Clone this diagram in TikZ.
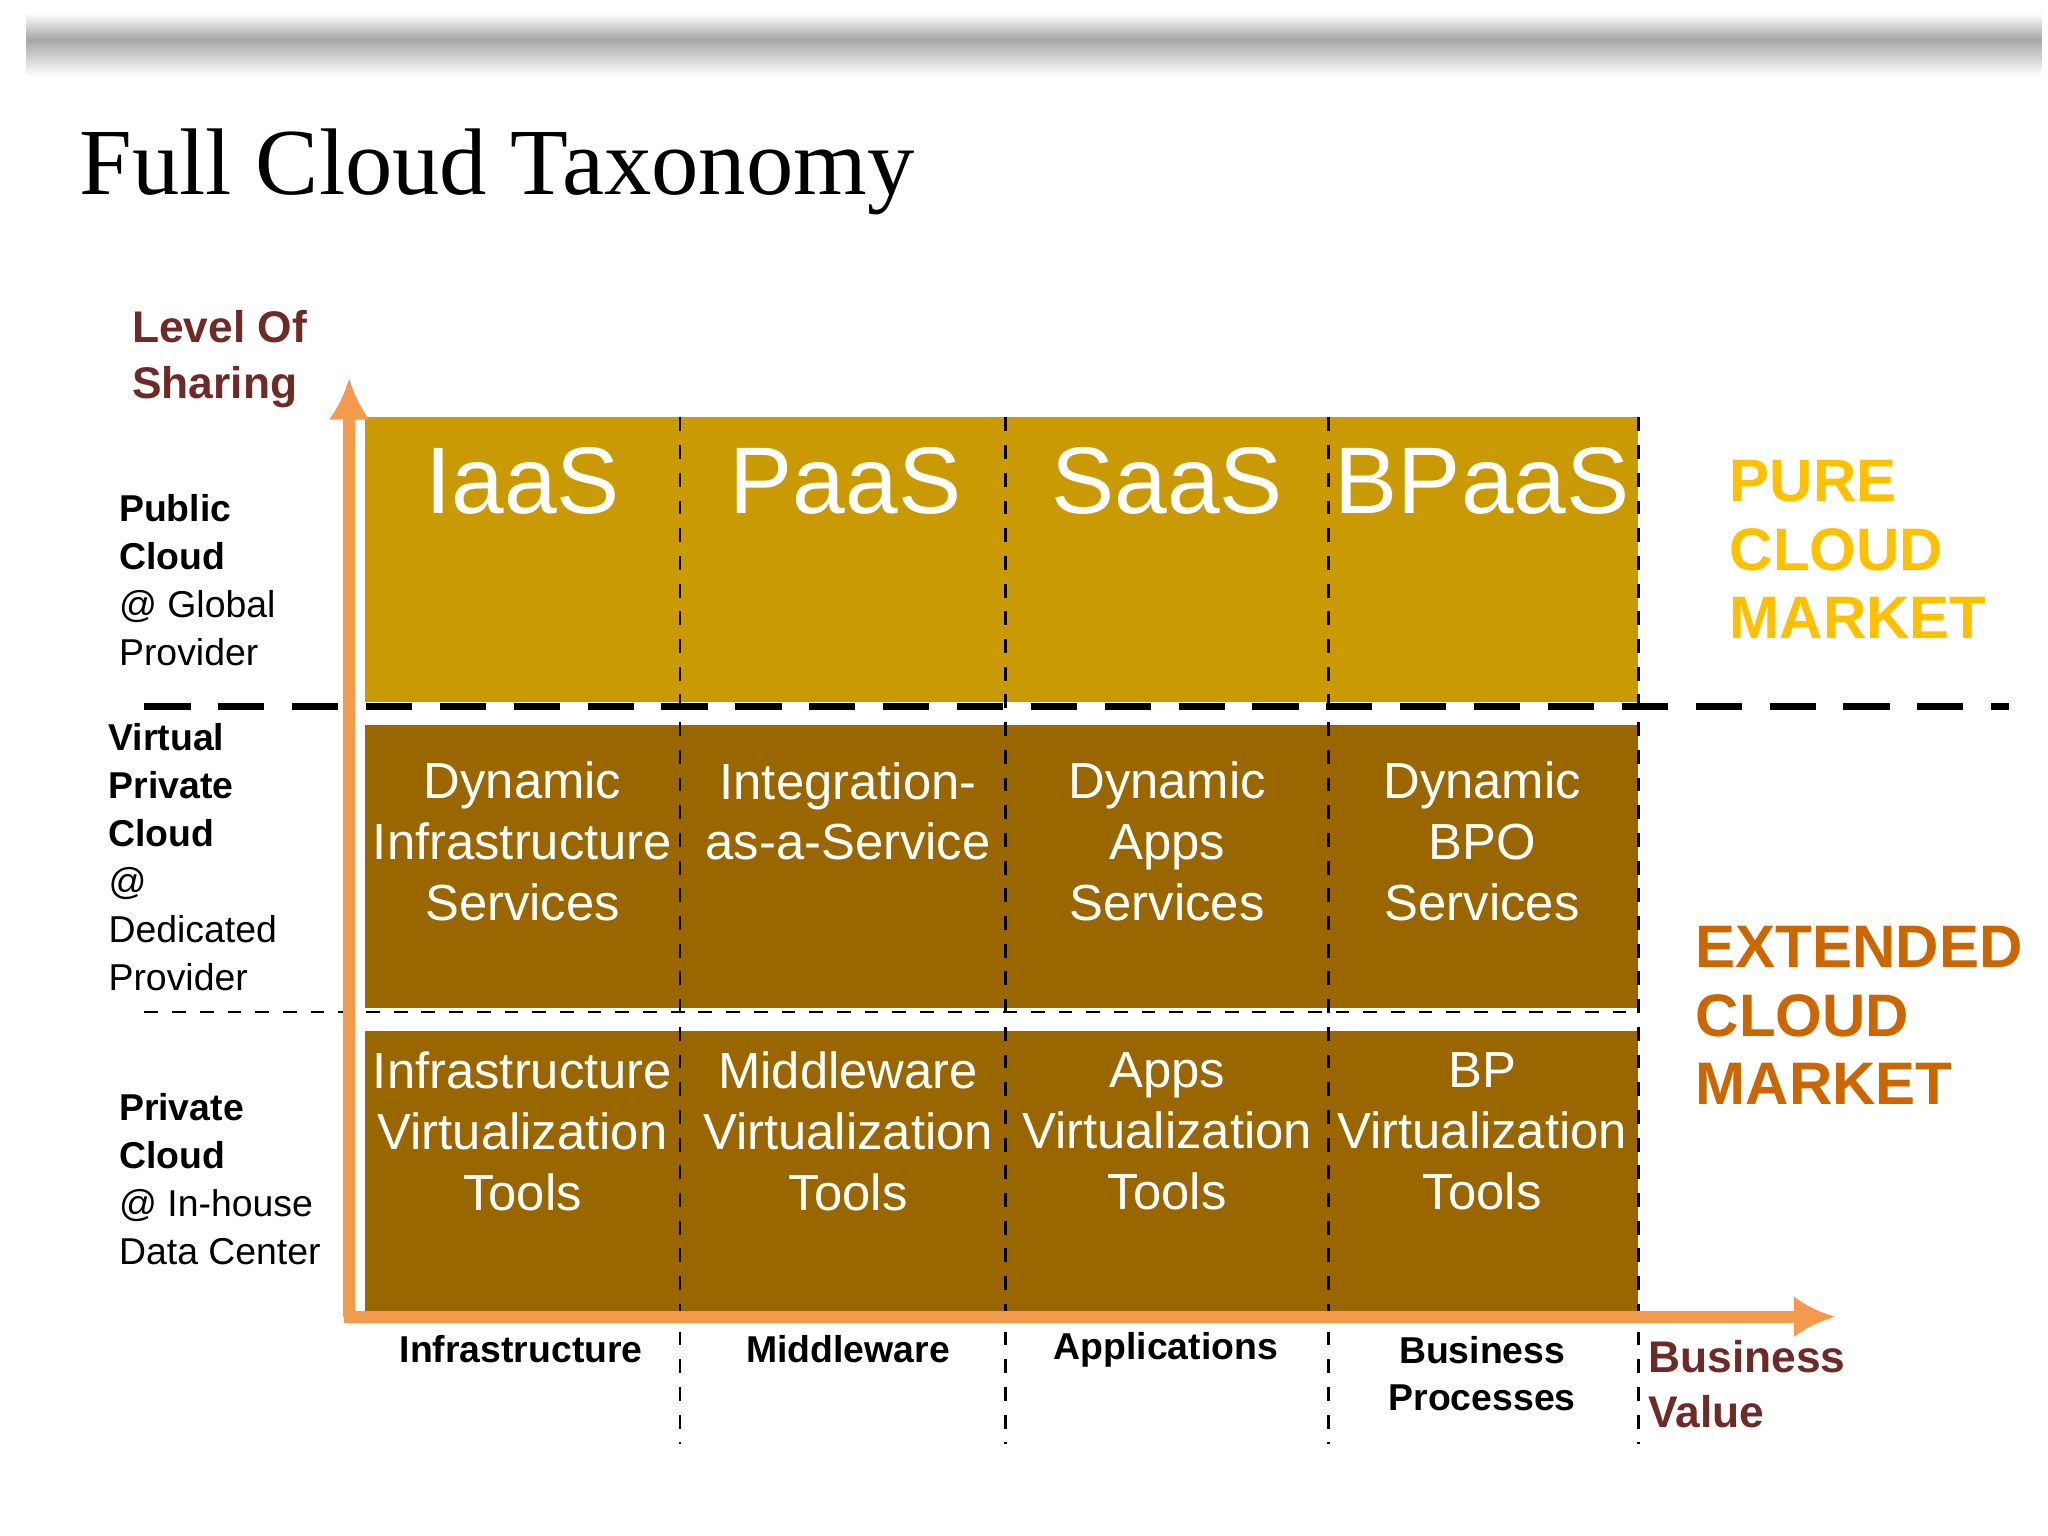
\documentclass[tikz,border=0pt]{standalone}
\usepackage{fontspec}
\setmainfont{Liberation Sans}
\newfontfamily\titlefont{Liberation Serif}
\usetikzlibrary{positioning,arrows.meta}

\definecolor{topgold}{HTML}{C99A04}
\definecolor{lowbrown}{HTML}{996600}
\definecolor{axisorange}{HTML}{F39A4C}
\definecolor{purecol}{HTML}{FFC000}
\definecolor{extcol}{HTML}{CC6600}
\definecolor{sharecol}{HTML}{6E2A26}

\tikzset{
  celltext/.style={text=white,align=center,font=\fontsize{11}{13.2}\selectfont},
  sidelab/.style={anchor=north west,inner sep=0pt,align=left,font=\fontsize{8.1}{10.4}\selectfont},
  collab/.style={align=center,font=\bfseries\fontsize{8.1}{10.2}\selectfont},
  market/.style={anchor=north west,inner sep=0pt,align=left,font=\bfseries\fontsize{13}{14.8}\selectfont},
}

\begin{document}
\begin{tikzpicture}[x=0.01cm,y=-0.01cm]
\useasboundingbox (0,0) rectangle (1560,1170);
% header bar
\shade[top color=white,bottom color=gray!70] (20,10) rectangle (1555,30);
\shade[top color=gray!70,bottom color=white] (20,30) rectangle (1555,58);
\node[anchor=base west,inner sep=0pt,font=\titlefont\fontsize{20.5}{24}\selectfont] (title) at (60,148) {Full Cloud Taxonomy};

% cells
\foreach \x/\w in {278/240,518/248,766/246,1012/236}{
  \fill[topgold] (\x,318) rectangle ++(\w,217);
  \fill[lowbrown] (\x,552) rectangle ++(\w,216);
  \fill[lowbrown] (\x,785) rectangle ++(\w,215);
}
\foreach \n/\x/\t in {iaas/398/IaaS,paas/644/PaaS,saas/889/SaaS,bpaas/1129/BPaaS}
  \node[text=white,font=\fontsize{20.5}{24}\selectfont] (\n) at (\x,366) {\t};
\node[celltext] (dis) at (398,641) {Dynamic\\Infrastructure\\Services};
\node[celltext] (iaas2) at (646,618) {Integration-\\as-a-Service};
\node[celltext] (das) at (889,641) {Dynamic\\Apps\\Services};
\node[celltext] (dbpo) at (1129,641) {Dynamic\\BPO\\Services};
\node[celltext] (ivt) at (398,862) {Infrastructure\\Virtualization\\Tools};
\node[celltext] (mvt) at (646,862) {Middleware\\Virtualization\\Tools};
\node[celltext] (avt) at (889,862) {Apps\\Virtualization\\Tools};
\node[celltext] (bvt) at (1129,862) {BP\\Virtualization\\Tools};

% separators
\foreach \x in {518,766,1012,1248}
  \draw[dashed,line width=0.6pt] (\x,318) -- (\x,1100);
\draw[dash pattern=on 10pt off 6pt,line width=1.6pt] (110,538) -- (1530,538);
\draw[dashed,line width=0.5pt] (110,771) -- (1248,771);

% axes
\coordinate (origin) at (266,1003);
\coordinate (ytop) at (266,288);
\coordinate (xend) at (1398,1003);
\draw[axisorange,line width=2.5pt,-{Latex[length=9pt,width=9pt]}] (origin) -- (ytop);
\draw[axisorange,line width=2.5pt,-{Latex[length=9pt,width=9pt]}] (262,1003) -- (xend);

% labels
\node[sidelab,text=sharecol,font=\bfseries\fontsize{9.6}{12}\selectfont] (share) at (100,236) {Level Of\\Sharing};
\node[sidelab] (pub) at (90,376) {\textbf{Public}\\\textbf{Cloud}\\@ Global\\Provider};
\node[sidelab] (vpc) at (82,550) {\textbf{Virtual}\\\textbf{Private}\\\textbf{Cloud}\\@\\Dedicated\\Provider};
\node[sidelab] (priv) at (90,832) {\textbf{Private}\\\textbf{Cloud}\\@ In-house\\Data Center};

\node[collab] (infra) at (397,1028) {Infrastructure};
\node[collab] (mid) at (646,1028) {Middleware};
\node[collab] (apps) at (888,1028) {Applications};
\node[collab] (bp) at (1129,1046) {Business\\Processes};
\node[anchor=north west,inner sep=0pt,align=left,text=sharecol,font=\bfseries\fontsize{9.6}{12}\selectfont] (bv) at (1255,1020) {Business\\Value};

\node[market,text=purecol] (pure) at (1317,350) {PURE\\CLOUD\\MARKET};
\node[market,text=extcol] (ext) at (1291,705) {EXTENDED\\CLOUD\\MARKET};
\end{tikzpicture}
\end{document}
